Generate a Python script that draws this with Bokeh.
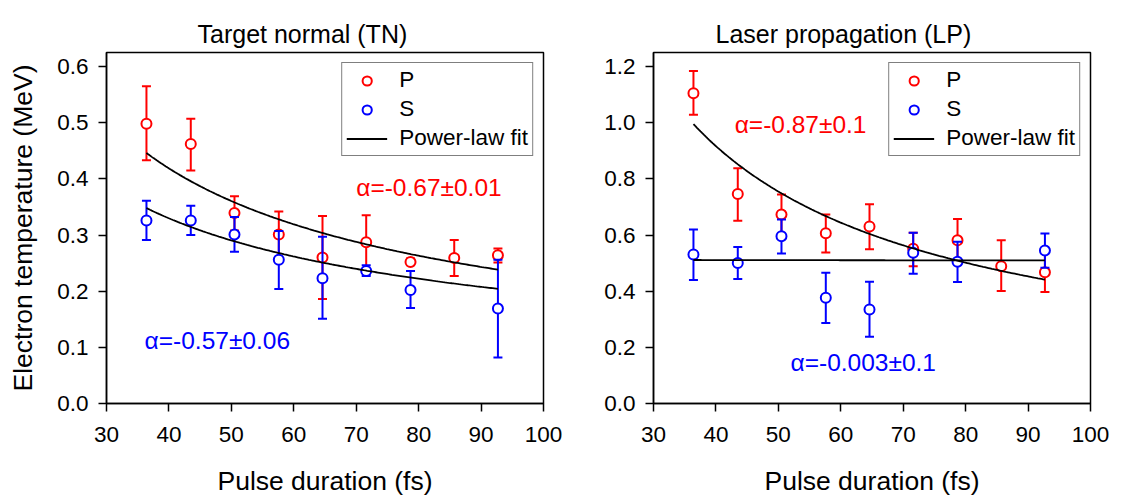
import numpy as np
from bokeh.plotting import figure
from bokeh.layouts import row
from bokeh.models import (Range1d, FixedTicker, NumeralTickFormatter, Legend,
                          LegendItem, Label, ColumnDataSource)
from bokeh.embed import file_html
from bokeh.resources import INLINE

# ---------------- data ----------------
pulse_p = [36.4, 43.5, 50.5, 57.6, 64.6, 71.6, 78.7, 85.7, 92.7]
pulse_s = [36.4, 43.5, 50.5, 57.6, 64.6, 71.6, 78.7, 92.7]

# Target normal (TN)
tn_p = [0.498, 0.462, 0.339, 0.301, 0.260, 0.287, 0.252, 0.259, 0.264]
tn_p_lo = [0.433, 0.415, 0.308, 0.260, 0.186, 0.238, 0.247, 0.227, 0.251]
tn_p_hi = [0.565, 0.507, 0.369, 0.342, 0.334, 0.335, 0.258, 0.291, 0.276]
tn_s = [0.326, 0.326, 0.301, 0.256, 0.223, 0.236, 0.202, 0.169]
tn_s_lo = [0.291, 0.300, 0.270, 0.204, 0.151, 0.227, 0.170, 0.082]
tn_s_hi = [0.361, 0.352, 0.332, 0.307, 0.297, 0.246, 0.236, 0.256]

# Laser propagation (LP)
lp_p = [1.105, 0.746, 0.673, 0.606, 0.630, 0.551, 0.581, 0.489, 0.467]
lp_p_lo = [1.028, 0.651, 0.593, 0.538, 0.549, 0.489, 0.503, 0.401, 0.397]
lp_p_hi = [1.184, 0.838, 0.744, 0.673, 0.710, 0.608, 0.657, 0.581, 0.543]
lp_s = [0.531, 0.500, 0.596, 0.377, 0.335, 0.537, 0.505, 0.545]
lp_s_lo = [0.440, 0.443, 0.534, 0.287, 0.238, 0.462, 0.433, 0.483]
lp_s_hi = [0.620, 0.557, 0.655, 0.466, 0.434, 0.608, 0.576, 0.605]

# power-law fits: T = A * (t / t0) ** alpha
fit_t0, fit_t1 = 36.4, 92.7
tn_fit_p = (0.446, -0.67)
tn_fit_s = (0.348, -0.57)
lp_fit_p = (0.995, -0.87)
lp_fit_s = (0.511, -0.003)

tn_text_p = "α=-0.67±0.01"
tn_text_s = "α=-0.57±0.06"
lp_text_p = "α=-0.87±0.1"
lp_text_s = "α=-0.003±0.1"

x_ticks = [30, 40, 50, 60, 70, 80, 90, 100]
tn_y_ticks = [0.0, 0.1, 0.2, 0.3, 0.4, 0.5, 0.6]
lp_y_ticks = [0.0, 0.2, 0.4, 0.6, 0.8, 1.0, 1.2]

FONT = "Liberation Sans"
RED = "#ff0000"
BLUE = "#0000ff"


def panel(title, title_offset, ymax, yticks, ylabel, border_left, border_right,
          p_x, p_y, p_lo, p_hi, s_x, s_y, s_lo, s_hi, fit_p, fit_s,
          txt_p, txt_p_pos, txt_s, txt_s_pos):
    p = figure(width=border_left + 437 + border_right, height=500,
               x_range=Range1d(30, 100), y_range=Range1d(0, ymax),
               output_backend="svg", toolbar_location=None,
               min_border_left=border_left, min_border_right=border_right,
               min_border_top=52, min_border_bottom=97)
    p.title.text = title
    p.title.align = "left"
    p.title.offset = title_offset
    p.title.text_font = FONT
    p.title.text_font_size = "25px"
    p.title.text_font_style = "normal"
    p.title.text_color = "black"
    p.title.standoff = 10
    p.grid.visible = False
    p.outline_line_color = "black"
    p.outline_line_width = 1.5
    p.outline_line_alpha = 1.0
    p.background_fill_color = "white"
    p.border_fill_color = "white"

    for ax in (p.xaxis[0], p.yaxis[0]):
        ax.axis_line_color = "black"
        ax.axis_line_width = 1.5
        ax.major_tick_out = 8
        ax.major_tick_in = 0
        ax.major_tick_line_width = 1.5
        ax.minor_tick_line_color = None
        ax.major_label_text_font = FONT
        ax.major_label_text_font_size = "22.5px"
        ax.major_label_text_color = "black"
        ax.axis_label_text_font = FONT
        ax.axis_label_text_font_size = "26.5px"
        ax.axis_label_text_font_style = "normal"
        ax.axis_label_text_color = "black"
    p.xaxis.ticker = FixedTicker(ticks=x_ticks)
    p.yaxis.ticker = FixedTicker(ticks=yticks)
    p.yaxis.formatter = NumeralTickFormatter(format="0.0")
    p.xaxis.axis_label = "Pulse duration (fs)"
    p.xaxis.major_label_standoff = 15
    p.xaxis.axis_label_standoff = 21
    p.yaxis.major_label_standoff = 10
    if ylabel:
        p.yaxis.axis_label = ylabel
        p.yaxis.axis_label_standoff = 16

    # P series
    p.segment(p_x, p_lo, p_x, p_hi, line_color=RED, line_width=2)
    p.scatter(p_x + p_x, p_lo + p_hi, marker="dash", size=9,
              line_color=RED, line_width=2)
    rp = p.scatter(p_x, p_y, marker="circle", size=10, line_color=RED,
                   line_width=2, fill_color="white")
    # S series
    p.segment(s_x, s_lo, s_x, s_hi, line_color=BLUE, line_width=2)
    p.scatter(s_x + s_x, s_lo + s_hi, marker="dash", size=9,
              line_color=BLUE, line_width=2)
    rs = p.scatter(s_x, s_y, marker="circle", size=10, line_color=BLUE,
                   line_width=2, fill_color="white")

    t = np.linspace(fit_t0, fit_t1, 200)
    rf = None
    for a, alpha in (fit_p, fit_s):
        rf = p.line(t, a * (t / fit_t0) ** alpha, line_color="black",
                    line_width=1.8)

    legend = Legend(items=[LegendItem(label="P", renderers=[rp]),
                           LegendItem(label="S", renderers=[rs]),
                           LegendItem(label="Power-law fit", renderers=[rf])],
                    location="top_right", margin=10, padding=4, spacing=3,
                    glyph_width=41, glyph_height=23, label_height=23,
                    label_standoff=12, label_text_font=FONT,
                    label_text_font_size="22.5px", label_text_color="black",
                    border_line_color="black",
                    border_line_width=1.2, background_fill_alpha=1.0)
    p.add_layout(legend)

    p.add_layout(Label(x=txt_p_pos[0], y=txt_p_pos[1], text=txt_p,
                       text_font=FONT, text_font_size="24.5px",
                       text_color=RED, text_baseline="middle"))
    p.add_layout(Label(x=txt_s_pos[0], y=txt_s_pos[1], text=txt_s,
                       text_font=FONT, text_font_size="24.5px",
                       text_color=BLUE, text_baseline="middle"))
    return p


left = panel("Target normal (TN)", 91, 0.625, tn_y_ticks,
             "Electron temperature (MeV)", 106, 24,
             pulse_p, tn_p, tn_p_lo, tn_p_hi, pulse_s, tn_s, tn_s_lo, tn_s_hi,
             tn_fit_p, tn_fit_s, tn_text_p, (70.0, 0.384),
             tn_text_s, (36.1, 0.112))
right = panel("Laser propagation (LP)", 62, 1.25, lp_y_ticks, None, 86, 44,
              pulse_p, lp_p, lp_p_lo, lp_p_hi, pulse_s, lp_s, lp_s_lo, lp_s_hi,
              lp_fit_p, lp_fit_s, lp_text_p, (43.0, 0.994),
              lp_text_s, (51.95, 0.147))

layout = row(left, right)
open("out.html", "w").write(file_html(layout, INLINE))
